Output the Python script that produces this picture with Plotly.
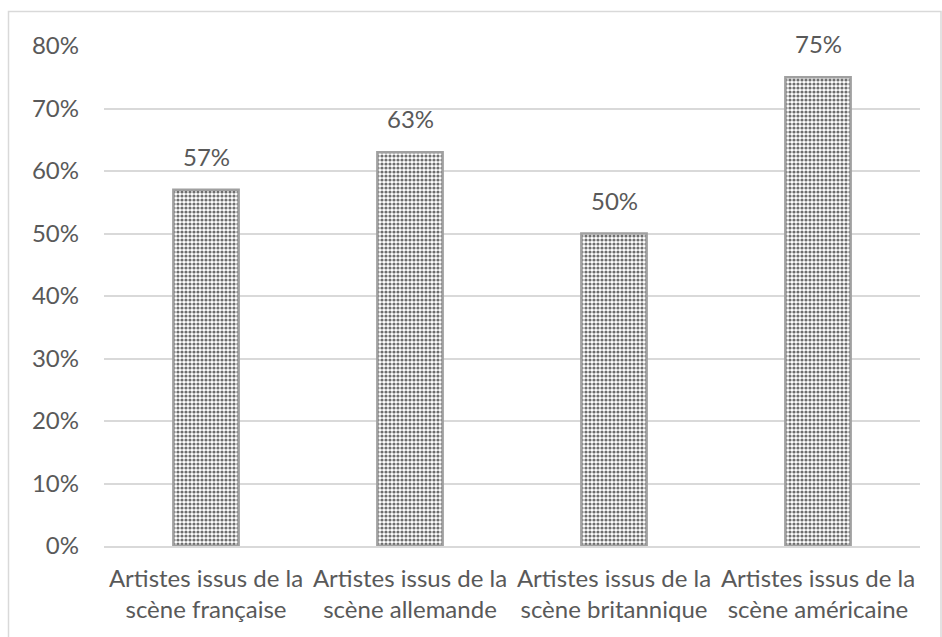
import plotly.graph_objects as go

categories = [
    "Artistes issus de la<br>scène française",
    "Artistes issus de la<br>scène allemande",
    "Artistes issus de la<br>scène britannique",
    "Artistes issus de la<br>scène américaine",
]
values = [0.57, 0.63, 0.50, 0.75]
labels = ["57%", "63%", "50%", "75%"]

W, H = 942, 637
L, R, T, B = 104, 22, 46, 91
FONT = "Lato, 'Open Sans', sans-serif"
TXT = "#595959"

fig = go.Figure()
fig.add_trace(go.Bar(
    x=categories,
    y=values,
    marker=dict(
        color="white",
        line=dict(color="#a0a0a0", width=2.5),
        pattern=dict(shape=".", fgcolor="#6e6e6e", bgcolor="white", size=4, solidity=0.5, fillmode="replace"),
    ),
    hoverinfo="skip",
))

for c, v, t in zip(categories, values, labels):
    fig.add_annotation(x=c, y=v, text=t, showarrow=False, yanchor="bottom", yshift=17,
                       font=dict(family=FONT, size=24, color=TXT))

pw = W - L - R
ph = H - T - B
def px2x(p):
    return (p - L) / pw
def py2y(p):
    return (H - B - p) / ph

fig.add_shape(type="rect", xref="paper", yref="paper",
              x0=px2x(8.5), x1=px2x(941), y0=py2y(640), y1=py2y(11.5),
              line=dict(color="#d9d9d9", width=1.5), fillcolor="rgba(0,0,0,0)", layer="below")

fig.update_layout(
    width=W, height=H,
    margin=dict(l=L, r=R, t=T, b=B, pad=0),
    paper_bgcolor="white", plot_bgcolor="white",
    bargap=0.68,
    showlegend=False,
    font=dict(family=FONT, size=24, color=TXT),
    xaxis=dict(showline=True, linecolor="#d9d9d9", linewidth=1.5, ticks="",
               ticklabelstandoff=10,
               tickfont=dict(family=FONT, size=24, color=TXT), showgrid=False),
    yaxis=dict(range=[0, 0.8], dtick=0.1, tickformat=".0%", showgrid=True,
               gridcolor="#d9d9d9", gridwidth=1.5, zeroline=False, showline=False,
               ticks="", ticklabelstandoff=24,
               tickfont=dict(family=FONT, size=24, color=TXT)),
)

fig.write_html("out.html", config={"displayModeBar": False},
               post_script="document.body.style.margin='0';document.body.style.overflow='hidden';")
